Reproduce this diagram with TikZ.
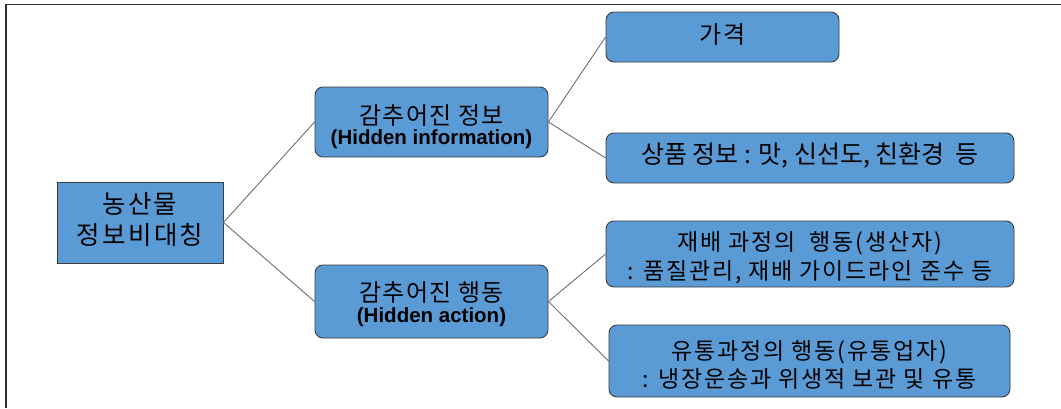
\documentclass[tikz,border=0pt]{standalone}
\usepackage{fontspec}
\setmainfont{Noto Sans CJK KR}
\newfontfamily\krA[LetterSpace=8]{Noto Sans CJK KR}
\newfontfamily\krB[LetterSpace=5]{Noto Sans CJK KR}
\newfontfamily\krC[LetterSpace=9]{Noto Sans CJK KR}
\newfontfamily\enfont{Liberation Sans}
\definecolor{boxfill}{RGB}{91,155,213}
\definecolor{boxline}{RGB}{60,60,60}
\definecolor{conn}{RGB}{110,110,110}
\newcommand\boxtext[2]{\raisebox{#1}[\height][\depth]{\begin{tabular}{@{}c@{}}#2\end{tabular}}}
\newcommand\hid[1]{{\enfont\bfseries\fontsize{20.5}{24}\selectfont #1}}
\begin{document}
\begin{tikzpicture}[x=1pt,y=-1pt,
  box/.style={draw=boxline, line width=0.9pt, fill=boxfill, rounded corners=8pt, inner sep=0pt, align=center, text=black},
  rootbox/.style={box, rounded corners=0pt},
  link/.style={draw=conn, line width=0.9pt}]
\useasboundingbox (0,0) rectangle (1061,408);
\draw[line width=1.6pt, draw=black!80] (6,408) -- (6,4.5) -- (1061,4.5);

\node[rootbox, minimum width=166pt, minimum height=81pt, font=\krC\fontsize{25.5}{31}\selectfont] (root) at (140,222.5)
  {\boxtext{0pt}{농산물\\정보비대칭}};
\node[box, minimum width=233pt, minimum height=70pt, font=\krB\fontsize{24}{24.5}\selectfont] (info) at (431.5,122)
  {\boxtext{-6pt}{감추어진 정보\\[-4.5pt]\hid{(Hidden information)}}};
\node[box, minimum width=233pt, minimum height=73pt, font=\krB\fontsize{24}{23}\selectfont] (action) at (431.5,301.5)
  {\boxtext{-4.5pt}{감추어진 행동\\[-2pt]\hid{(Hidden action)}}};
\node[box, minimum width=233pt, minimum height=50pt, font=\krB\fontsize{24}{28}\selectfont] (price) at (722.5,37)
  {\boxtext{-1pt}{가격}};
\node[box, minimum width=408pt, minimum height=50pt, font=\fontsize{25}{30}\selectfont] (goods) at (810,158)
  {\boxtext{0.5pt}{상품 정보 : 맛, 신선도, 친환경\ \ 등}};
\node[box, minimum width=408pt, minimum height=66pt, font=\krA\fontsize{23}{29.5}\selectfont] (grow) at (810,254)
  {\boxtext{-5pt}{재배 과정의\ \ 행동(생산자)\\: 품질관리, 재배 가이드라인 준수 등}};
\node[box, minimum width=401pt, minimum height=72pt, font=\krA\fontsize{23}{28}\selectfont] (dist) at (809.5,361)
  {\boxtext{-6.5pt}{유통과정의 행동(유통업자)\\: 냉장운송과 위생적 보관 및 유통}};

\draw[link] (root.east) -- (info.west);
\draw[link] (root.east) -- (action.west);
\draw[link] (info.east) -- (price.west);
\draw[link] (info.east) -- (goods.west);
\draw[link] (action.east) -- (grow.west);
\draw[link] (action.east) -- (dist.west);
\end{tikzpicture}
\end{document}
